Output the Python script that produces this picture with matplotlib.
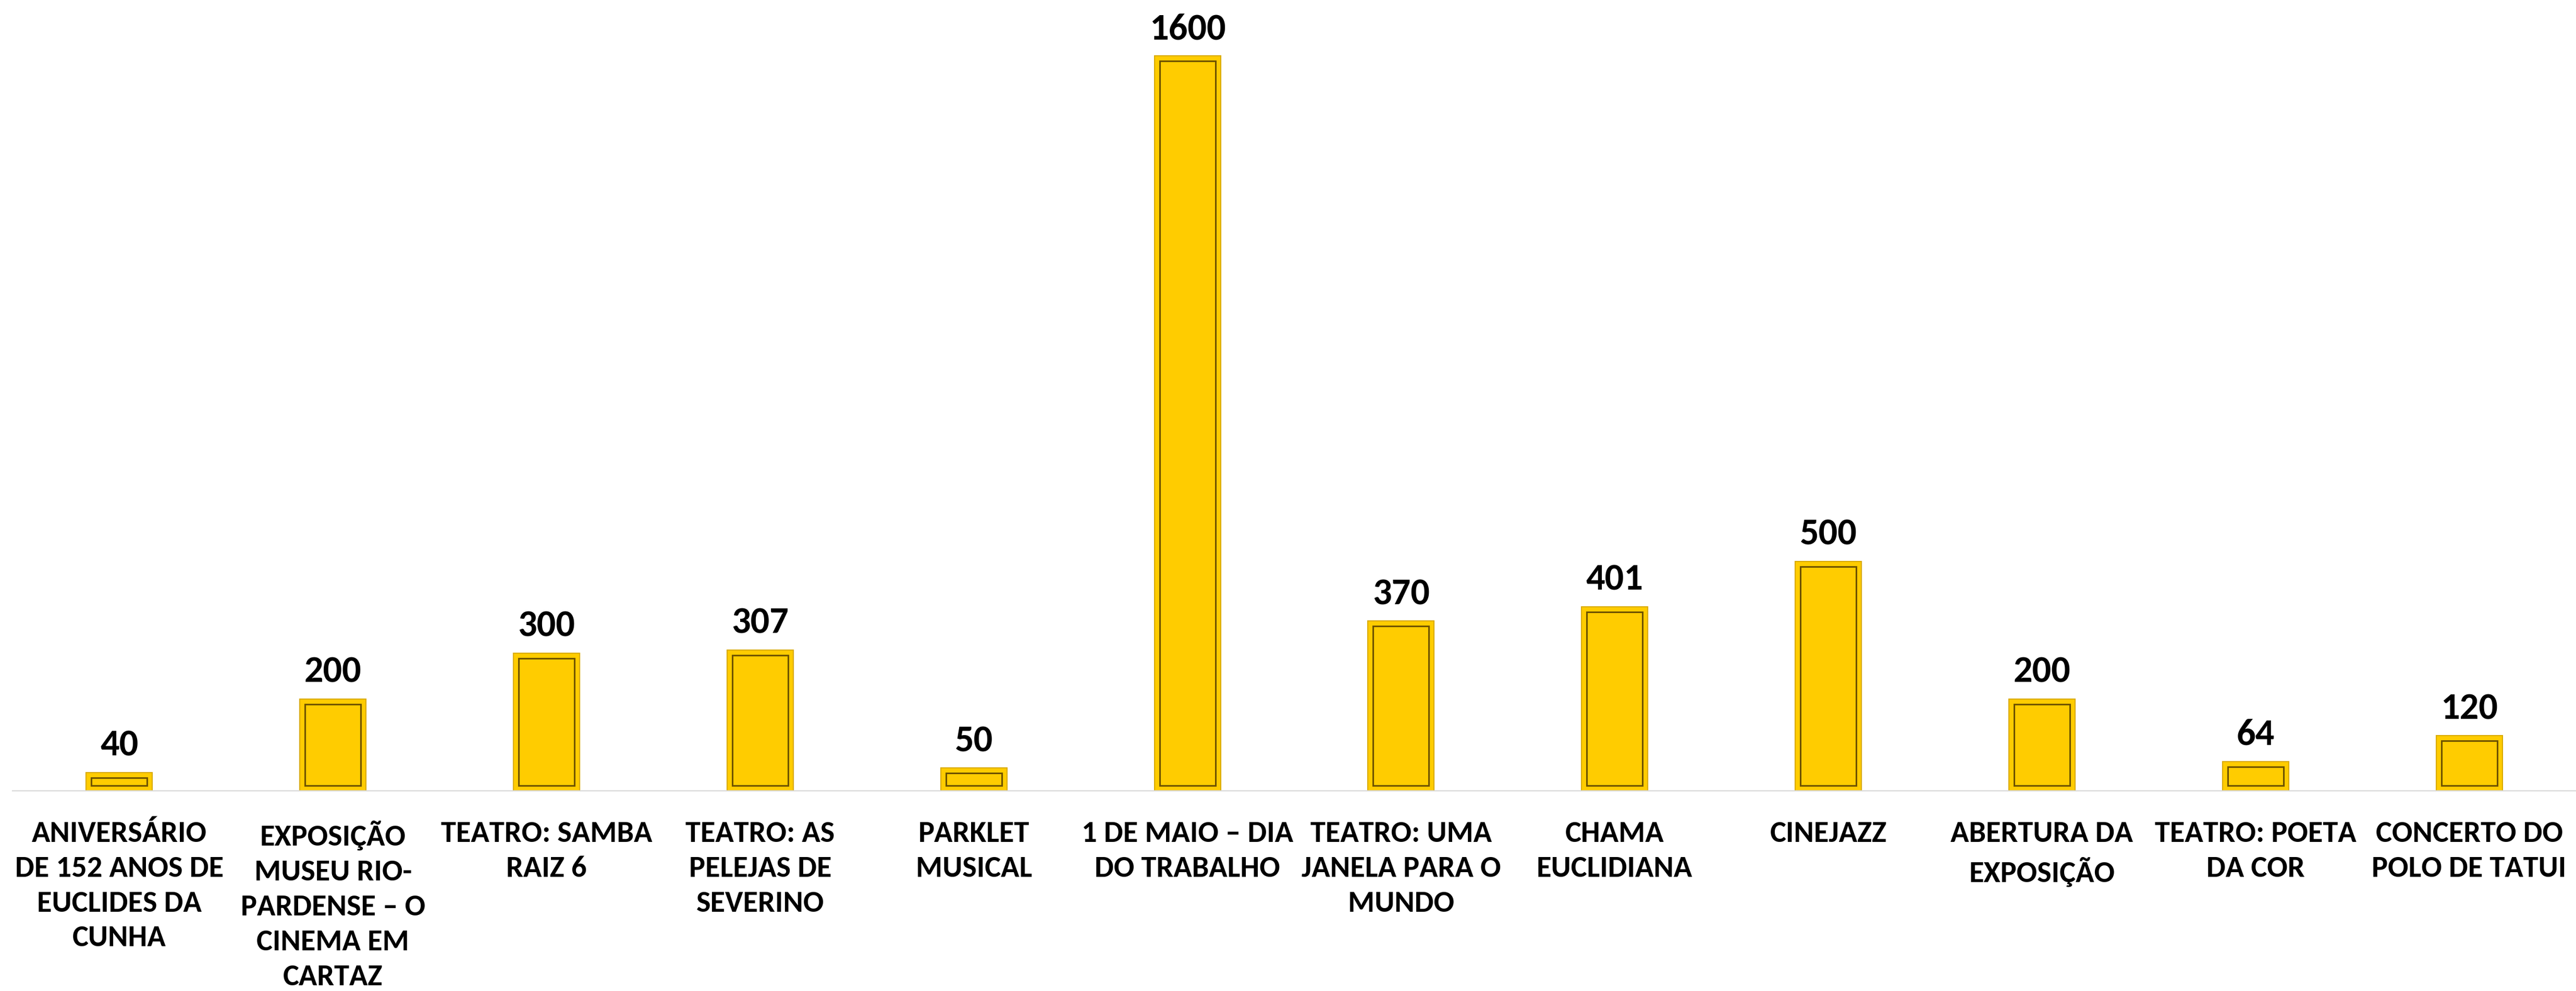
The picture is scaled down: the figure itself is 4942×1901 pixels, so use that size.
import numpy as np
import matplotlib.pyplot as plt

# dados do gráfico
eventos = [
    "ANIVERSÁRIO\nDE 152 ANOS DE\nEUCLIDES DA\nCUNHA",
    "EXPOSIÇÃO\nMUSEU RIO-\nPARDENSE – O\nCINEMA EM\nCARTAZ",
    "TEATRO: SAMBA\nRAIZ 6",
    "TEATRO: AS\nPELEJAS DE\nSEVERINO",
    "PARKLET\nMUSICAL",
    "1 DE MAIO – DIA\nDO TRABALHO",
    "TEATRO: UMA\nJANELA PARA O\nMUNDO",
    "CHAMA\nEUCLIDIANA",
    "CINEJAZZ",
    "ABERTURA DA\nEXPOSIÇÃO",
    "TEATRO: POETA\nDA COR",
    "CONCERTO DO\nPOLO DE TATUI",
]
publico = [40, 200, 300, 307, 50, 1600, 370, 401, 500, 200, 64, 120]

plt.rcParams['font.family'] = ['Carlito', 'DejaVu Sans']

W, H = 4942, 1901
fig = plt.figure(figsize=(W / 100, H / 100), dpi=100)
base = 1517
ax = fig.add_axes([24 / W, (H - base) / H, (W - 24) / W, base / H])

x = np.arange(len(eventos))
vals = np.array(publico, dtype=float)
largura = 0.31
ax.set_xlim(-0.5, len(eventos) - 0.5)
ax.set_ylim(0, base / 0.881)

# barra externa + moldura interna (imita o chanfro do Excel)
ax.bar(x, vals, width=largura, color='#FFCC00', edgecolor='#D9AA00', linewidth=1.5, zorder=2)
ins_y = 10 / 0.881
ins_x = 10 / 410
ax.bar(x, vals - 2 * ins_y, bottom=ins_y, width=largura - 2 * ins_x,
       color='#FFCC00', edgecolor='#6E5200', linewidth=2.2, zorder=3)

for xi, v in zip(x, publico):
    ax.annotate(str(v), (xi, v), xytext=(0, 23), textcoords='offset points',
                ha='center', va='baseline', fontsize=52, fontweight='bold', color='black')

ax.set_xticks(x)
ax.set_xticklabels(eventos, fontsize=42, fontweight='bold', linespacing=1.41, va='top')
ax.tick_params(axis='x', length=0, pad=41)
ax.set_yticks([])
for s in ['top', 'right', 'left']:
    ax.spines[s].set_visible(False)
ax.spines['bottom'].set_color('#D9D9D9')
ax.spines['bottom'].set_linewidth(1.6)

fig.savefig('out.png', dpi=100, facecolor='white')
